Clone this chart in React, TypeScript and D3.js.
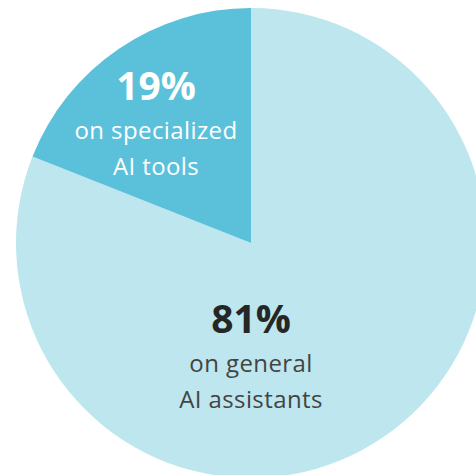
import React from "react";
import * as d3 from "d3";

const categories = ["on general|AI assistants", "on specialized|AI tools"];
const shares = [81, 19];
const colors = ["#bee6ee", "#5bc0da"];
const textColors = ["#262626", "#ffffff"];
const subColors = ["#444444", "#ffffff"];

const W = 476, H = 475;
const cx = 251, cy = 243, R = 235;
// label anchor offsets relative to pie center (layout only)
const labelOffsets = [
  [0, 90],
  [-95, -143],
];

export default function App() {
  const pie = d3.pie<number>().sort(null).value((d) => d).startAngle(0).endAngle(2 * Math.PI);
  const arcs = pie(shares);
  const arc = d3.arc<d3.PieArcDatum<number>>().innerRadius(0).outerRadius(R);
  return (
    <svg width={W} height={H} style={{ position: "absolute", left: 0, top: 0, background: "#fff" }}>
      <g transform={`translate(${cx},${cy})`}>
        {arcs.map((a, i) => (
          <path key={i} d={arc(a) || ""} fill={colors[i]} />
        ))}
        {arcs.map((a, i) => {
          const [dx, dy] = labelOffsets[i];
          const lines = categories[i].split("|");
          return (
            <g key={"l" + i} transform={`translate(${dx},${dy})`} fontFamily="'Open Sans', sans-serif" textAnchor="middle">
              <text y={0} fontSize={39} fontWeight={700} fill={textColors[i]}>{shares[i]}%</text>
              <text y={39} fontSize={24} letterSpacing={0.4} fontWeight={400} fill={subColors[i]}>{lines[0]}</text>
              <text y={75} fontSize={24} letterSpacing={0.4} fontWeight={400} fill={subColors[i]}>{lines[1]}</text>
            </g>
          );
        })}
      </g>
    </svg>
  );
}
